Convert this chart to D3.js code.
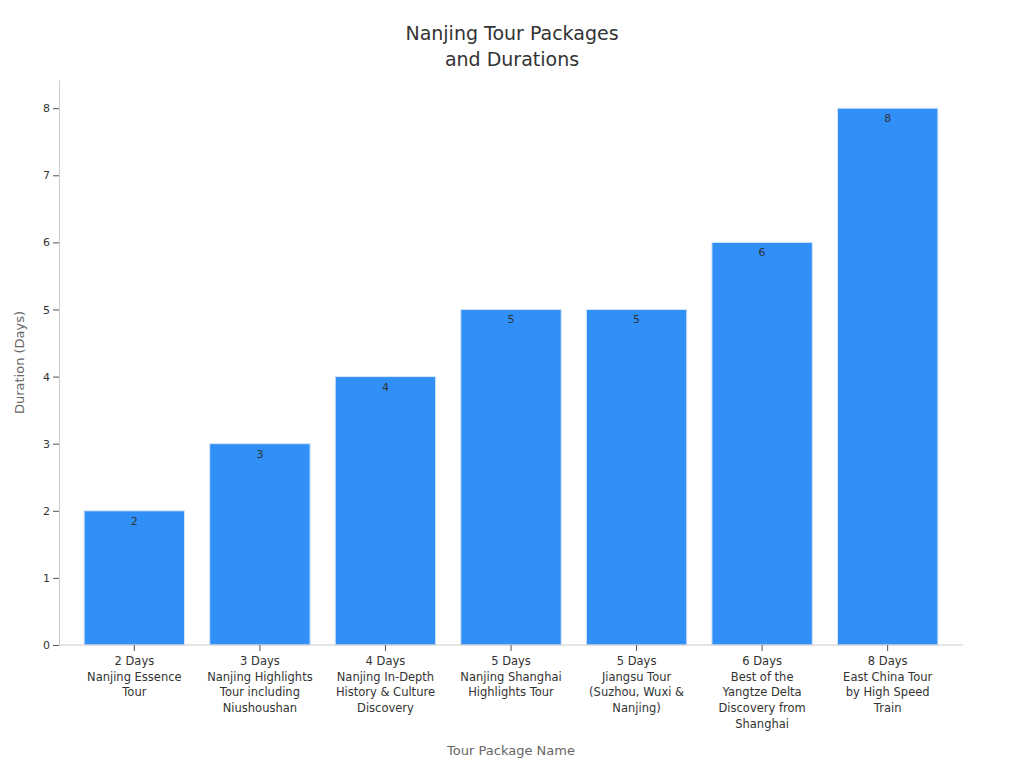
<!DOCTYPE html>
<html>
<head>
<meta charset="utf-8">
<script src="https://cdn.jsdelivr.net/npm/d3@7"></script>
<style>
body { margin: 0; background: #fff; }
text { font-family: "DejaVu Sans", sans-serif; }
</style>
</head>
<body>
<div id="chart"></div>
<script>
const categories = ["2d", "3d", "4d", "5d-sh", "5d-js", "6d", "8d"]
const tickLabels = [
    ["2 Days", "Nanjing Essence", "Tour"],
    ["3 Days", "Nanjing Highlights", "Tour including", "Niushoushan"],
    ["4 Days", "Nanjing In-Depth", "History & Culture", "Discovery"],
    ["5 Days", "Nanjing Shanghai", "Highlights Tour"],
    ["5 Days", "Jiangsu Tour", "(Suzhou, Wuxi &", "Nanjing)"],
    ["6 Days", "Best of the", "Yangtze Delta", "Discovery from", "Shanghai"],
    ["8 Days", "East China Tour", "by High Speed", "Train"],
]
const durations = [2, 3, 4, 5, 5, 6, 8]

const dimensions = {
    width: 1024,
    height: 768,
    margin: { top: 80, right: 61, bottom: 123, left: 59 },
}
dimensions.boundedWidth = dimensions.width - dimensions.margin.left - dimensions.margin.right
dimensions.boundedHeight = dimensions.height - dimensions.margin.top - dimensions.margin.bottom

const svg = d3.select("#chart").append("svg")
    .attr("width", dimensions.width)
    .attr("height", dimensions.height)

svg.append("text")
    .attr("x", 512).attr("y", 40)
    .attr("text-anchor", "middle")
    .style("font-size", "19px").attr("fill", "#333")
    .selectAll("tspan").data(["Nanjing Tour Packages", "and Durations"]).join("tspan")
    .attr("x", 512).attr("dy", (d, i) => i ? 26 : 0)
    .text(d => d)

const bounds = svg.append("g")
    .attr("transform", `translate(${dimensions.margin.left},${dimensions.margin.top})`)

const xScale = d3.scaleBand()
    .domain(categories)
    .range([0, dimensions.boundedWidth])
    .padding(0.2)

const yScale = d3.scaleLinear()
    .domain([0, 8.42])
    .range([dimensions.boundedHeight, 0])

bounds.selectAll(".bar").data(durations).join("rect")
    .attr("class", "bar")
    .attr("x", (d, i) => xScale(categories[i]))
    .attr("width", xScale.bandwidth())
    .attr("y", d => yScale(d))
    .attr("height", d => dimensions.boundedHeight - yScale(d))
    .attr("fill", "#3090f8")
    .attr("stroke", "#d8e6f5")
    .attr("stroke-width", 1)

bounds.selectAll(".val").data(durations).join("text")
    .attr("class", "val")
    .attr("x", (d, i) => xScale(categories[i]) + xScale.bandwidth() / 2)
    .attr("y", d => yScale(d) + 14)
    .attr("text-anchor", "middle")
    .style("font-size", "11px").attr("fill", "#333")
    .text(d => d)

// axes
const yAxis = bounds.append("g")
    .call(d3.axisLeft(yScale).ticks(8).tickSizeOuter(0))
yAxis.select(".domain").attr("stroke", "#ccc")
yAxis.selectAll(".tick line").attr("stroke", "#555")
yAxis.selectAll(".tick text").style("font-size", "11px").attr("fill", "#333").attr("font-family", "DejaVu Sans")

const xAxis = bounds.append("g")
    .attr("transform", `translate(0,${dimensions.boundedHeight})`)
    .call(d3.axisBottom(xScale).tickSizeOuter(0).tickFormat(""))
xAxis.select(".domain").attr("stroke", "#ccc")
    .attr("d", `M0,0H${dimensions.boundedWidth}`)
xAxis.selectAll(".tick line").attr("stroke", "#555")
xAxis.selectAll(".tick").append("text")
    .attr("text-anchor", "middle")
    .attr("fill", "#333")
    .style("font-size", "11.5px")
    .selectAll("tspan").data((d, i) => tickLabels[i]).join("tspan")
    .attr("x", 0)
    .attr("y", (d, i) => 20 + i * 15.7)
    .text(d => d)

svg.append("text")
    .attr("x", dimensions.margin.left + dimensions.boundedWidth / 2)
    .attr("y", 755)
    .attr("text-anchor", "middle")
    .style("font-size", "13px").attr("fill", "#666")
    .text("Tour Package Name")

svg.append("text")
    .attr("transform", `translate(24,${dimensions.margin.top + dimensions.boundedHeight / 2}) rotate(-90)`)
    .attr("text-anchor", "middle")
    .style("font-size", "13px").attr("fill", "#666")
    .text("Duration (Days)")
</script>
</body>
</html>
